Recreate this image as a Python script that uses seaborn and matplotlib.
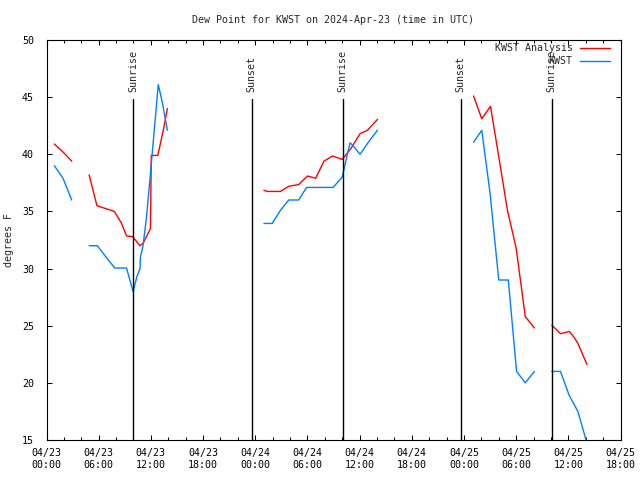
"""Dew point at KWST, station obs vs analysis, 04/23-04/25 UTC."""
import matplotlib

matplotlib.use("Agg")
import matplotlib.dates as mdates
import matplotlib.pyplot as plt
import matplotlib.transforms as mtransforms
import pandas as pd
import seaborn as sns

START = pd.Timestamp("2024-04-23 00:00")

# hours after 04/23 00Z, one list per unbroken run of data
analysis_hours = [
    [0.9, 1.9, 2.9],
    [4.9, 5.8, 6.8, 7.8, 8.6, 9.2, 9.9, 10.75, 11.1, 11.95, 12.05, 12.8, 13.4, 13.9],
    [25.0, 25.4, 26.9, 27.85, 28.6, 29.0, 30.0, 30.95, 31.9, 32.9, 34.0, 35.0, 36.05, 36.9, 38.05],
    [49.1, 50.05, 51.05, 52.0, 53.0, 54.0, 55.05, 56.1],
    [58.1, 59.1, 60.1, 60.7, 61.1, 62.15],
]
analysis_dewpt = [
    [40.9, 40.2, 39.4],
    [38.2, 35.5, 35.25, 35.0, 34.0, 32.85, 32.8, 32.0, 32.2, 33.5, 39.9, 39.9, 42.0, 44.0],
    [36.85, 36.75, 36.75, 37.2, 37.3, 37.35, 38.1, 37.9, 39.4, 39.85, 39.55, 40.5, 41.8, 42.1, 43.05],
    [45.1, 43.1, 44.2, 39.8, 35.1, 31.8, 25.8, 24.8],
    [25.05, 24.3, 24.5, 23.95, 23.45, 21.6],
]
obs_hours = [
    [0.9, 1.9, 2.9],
    [4.9, 5.85, 6.85, 7.85, 9.2, 9.95, 10.4, 10.75, 10.8, 11.1, 11.5, 11.95, 12.85, 13.3, 13.9],
    [25.0, 25.95, 26.9, 27.85, 29.0, 29.9, 32.95, 34.0, 34.9, 35.2, 36.05, 37.05, 38.05],
    [49.1, 50.05, 51.0, 52.0, 53.1, 54.05, 55.05, 56.1],
    [58.1, 59.1, 60.1, 61.1, 62.15],
]
obs_dewpt = [
    [39.0, 37.9, 36.0],
    [32.0, 32.0, 31.0, 30.05, 30.05, 28.0, 29.3, 30.0, 31.0, 32.0, 34.5, 38.3, 46.1, 44.6, 42.1],
    [33.95, 33.95, 35.1, 36.0, 36.0, 37.1, 37.1, 38.0, 41.0, 40.8, 40.0, 41.1, 42.1],
    [41.05, 42.1, 36.6, 29.0, 29.0, 21.0, 20.0, 21.0],
    [21.0, 21.0, 18.9, 17.5, 14.7],
]

sun_labels = ["Sunrise", "Sunset", "Sunrise", "Sunset", "Sunrise"]
sun_hours = [10.0, 23.58, 34.05, 47.62, 58.08]

rows = []
for name, all_hours, all_vals in [
    ("KWST Analysis", analysis_hours, analysis_dewpt),
    ("KWST", obs_hours, obs_dewpt),
]:
    for run, (hrs, vals) in enumerate(zip(all_hours, all_vals)):
        for h, v in zip(hrs, vals):
            rows.append({"series": name, "run": run, "time": START + pd.Timedelta(hours=h), "dewpt": v})
df = pd.DataFrame(rows)

sns.set_theme(style="ticks")
plt.rcParams["font.family"] = ["DejaVu Sans Mono", "DejaVu Sans"]
plt.rcParams["font.size"] = 7.2

fig = plt.figure(figsize=(6.4, 4.8), dpi=100)
ax = fig.add_axes([46.5 / 640, 40 / 480, 574 / 640, 400 / 480])

sns.lineplot(
    data=df, x="time", y="dewpt", hue="series", units="run", estimator=None,
    hue_order=["KWST Analysis", "KWST"], palette=["#ff0000", "#0080ff"],
    linewidth=1, ax=ax,
)

trans = mtransforms.blended_transform_factory(ax.transData, ax.transAxes)
for lab, h in zip(sun_labels, sun_hours):
    t = START + pd.Timedelta(hours=h)
    ax.axvline(t, ymin=0, ymax=0.853, color="black", lw=1)
    ax.text(t, 0.87, lab, rotation=90, ha="center", va="bottom", transform=trans, fontsize=7.2)

ax.set_xlim(START, START + pd.Timedelta(hours=66))
ax.set_ylim(15, 50)
ax.set_yticks(range(15, 51, 5))
ax.xaxis.set_major_locator(mdates.HourLocator(byhour=range(0, 24, 6)))
ax.xaxis.set_minor_locator(mdates.HourLocator(byhour=range(0, 24, 2)))
ax.xaxis.set_major_formatter(mdates.DateFormatter("%m/%d\n%H:%M"))
ax.tick_params(which="both", direction="in", top=True, right=True, colors="black", labelsize=7.2)
ax.tick_params(which="major", length=3.6, width=0.75)
ax.tick_params(which="minor", length=2, width=0.75)
ax.tick_params(axis="x", pad=6)
ax.tick_params(axis="y", pad=9)
for s in ax.spines.values():
    s.set_linewidth(0.8)
    s.set_color("black")
ax.set_xlabel("")
ax.set_ylabel("")

sns.move_legend(
    ax, "upper right", bbox_to_anchor=(0.99, 1.005), frameon=False, title="",
    markerfirst=False, borderpad=0, handlelength=3.0, handletextpad=0.7,
    labelspacing=0.35, fontsize=7.2,
)

fig.text(333 / 640, 1 - 20 / 480, "Dew Point for KWST on 2024-Apr-23 (time in UTC)",
         ha="center", va="center", fontsize=7.2)
fig.text(9 / 640, 0.5, "degrees F", rotation=90, ha="center", va="center", fontsize=7.2)

fig.savefig("out.png", dpi=100)
